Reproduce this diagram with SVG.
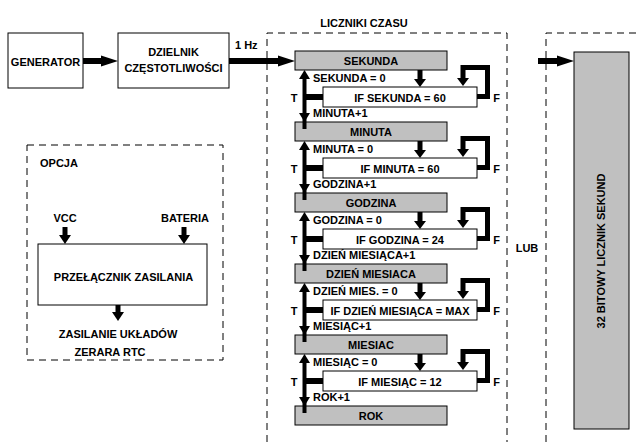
<svg xmlns="http://www.w3.org/2000/svg" width="641" height="442" viewBox="0 0 641 442">
<style>
text{font-family:"Liberation Sans",Arial,sans-serif;font-weight:bold;font-size:11px;fill:#000}
.c{text-anchor:middle}
.box{fill:#fff;stroke:#000;stroke-width:1}
.gray{fill:#c0c0c0;stroke:#000;stroke-width:1}
.dash{fill:none;stroke:#000;stroke-width:1;stroke-dasharray:7 5}
.th{fill:none;stroke:#000;stroke-width:6}
.md{fill:none;stroke:#000;stroke-width:5}
.sh{fill:none;stroke:#000;stroke-width:4}
.hd{fill:#000}
</style>
<rect width="641" height="442" fill="#fff"/>

<!-- dashed containers -->
<g id="liczniki">
<path class="dash" d="M267,442 V33 H507 V442"/>
<text class="c" x="364" y="27">LICZNIKI CZASU</text>
</g>
<g id="lub-region">
<path class="dash" d="M546,442 V33 H641"/>
<text class="c" x="527" y="252">LUB</text>
</g>
<g id="opcja">
<rect class="dash" x="27" y="145" width="196" height="215"/>
<text x="40" y="167">OPCJA</text>
<text class="c" x="65" y="222">VCC</text>
<text class="c" x="185" y="222">BATERIA</text>
<text class="c" x="118" y="338">ZASILANIE UKŁADÓW</text>
<text class="c" x="110" y="356">ZERARA RTC</text>
</g>

<g id="generator">
<rect class="box" x="8" y="33" width="75" height="55"/>
<text class="c" x="45.5" y="65.5">GENERATOR</text>
</g>
<g id="dzielnik">
<rect class="box" x="118" y="33" width="111" height="55"/>
<text class="c" x="173.5" y="56">DZIELNIK</text>
<text class="c" x="173.5" y="72">CZĘSTOTLIWOŚCI</text>
</g>
<text x="235" y="49">1 Hz</text>

<g id="przelacznik">
<rect class="box" x="38" y="244" width="169" height="61"/>
<text class="c" x="123.5" y="281">PRZEŁĄCZNIK ZASILANIA</text>
</g>

<g id="licznik32">
<rect class="gray" x="574" y="52" width="55" height="377"/>
<text class="c" transform="translate(605,251) rotate(-90)">32 BITOWY LICZNIK SEKUND</text>
</g>

<!-- counters -->
<g id="sekunda">
<rect class="gray" x="295" y="51" width="152" height="19"/>
<text class="c" x="371" y="65">SEKUNDA</text>
</g>
<g id="if-sekunda">
<rect class="box" x="323" y="87" width="154" height="20"/>
<text class="c" x="400" y="101.5">IF SEKUNDA = 60</text>
</g>
<g id="minuta">
<rect class="gray" x="295" y="122" width="152" height="19"/>
<text class="c" x="371" y="136">MINUTA</text>
</g>
<g id="if-minuta">
<rect class="box" x="323" y="158" width="154" height="20"/>
<text class="c" x="400" y="172.5">IF MINUTA = 60</text>
</g>
<g id="godzina">
<rect class="gray" x="295" y="193" width="152" height="19"/>
<text class="c" x="371" y="207">GODZINA</text>
</g>
<g id="if-godzina">
<rect class="box" x="323" y="229" width="154" height="20"/>
<text class="c" x="400" y="243.5">IF GODZINA = 24</text>
</g>
<g id="dzien">
<rect class="gray" x="295" y="264" width="152" height="19"/>
<text class="c" x="371" y="278">DZIEŃ MIESIACA</text>
</g>
<g id="if-dzien">
<rect class="box" x="323" y="300" width="154" height="20"/>
<text class="c" x="400" y="314.5">IF DZIEŃ MIESIĄCA = MAX</text>
</g>
<g id="miesiac">
<rect class="gray" x="295" y="335" width="152" height="19"/>
<text class="c" x="371" y="349">MIESIAC</text>
</g>
<g id="if-miesiac">
<rect class="box" x="323" y="371" width="154" height="20"/>
<text class="c" x="400" y="385.5">IF MIESIĄC = 12</text>
</g>
<g id="rok">
<rect class="gray" x="295" y="406" width="152" height="19"/>
<text class="c" x="371" y="420">ROK</text>
</g>

<!-- labels -->
<g id="labels">
<text x="313" y="82">SEKUNDA = 0</text>
<text x="313" y="117">MINUTA+1</text>
<text x="313" y="153">MINUTA = 0</text>
<text x="313" y="188">GODZINA+1</text>
<text x="313" y="224">GODZINA = 0</text>
<text x="313" y="259">DZIEŃ MIESIĄCA+1</text>
<text x="313" y="295">DZIEŃ MIES. = 0</text>
<text x="313" y="330">MIESIĄC+1</text>
<text x="313" y="366">MIESIĄC = 0</text>
<text x="313" y="401">ROK+1</text>
<text class="c" x="294" y="101.5">T</text><text class="c" x="496.5" y="101.5">F</text>
<text class="c" x="294" y="172.5">T</text><text class="c" x="496.5" y="172.5">F</text>
<text class="c" x="294" y="243.5">T</text><text class="c" x="496.5" y="243.5">F</text>
<text class="c" x="294" y="314.5">T</text><text class="c" x="496.5" y="314.5">F</text>
<text class="c" x="294" y="385.5">T</text><text class="c" x="496.5" y="385.5">F</text>
</g>

<defs>
<g id="row">
<!-- down arrow -->
<path class="md" d="M420,19 V29"/>
<polygon class="hd" points="414,28 426,28 420,36"/>
<!-- loop -->
<path class="md" d="M477,45.5 H487.5 V16.5 H463 V28"/>
<polygon class="hd" points="457,27 469,27 463,35"/>
<!-- T double arrow -->
<path class="sh" d="M304.5,78 V63"/>
<path class="sh" d="M304.5,27 V63"/>
<polygon class="hd" points="299,28 310,28 304.5,19"/>
<polygon class="hd" points="299,62 310,62 304.5,71"/>
<path class="th" d="M304.5,46 H323"/>
</g>
</defs>

<g id="connectors">
<path class="th" d="M83,61 H103"/>
<polygon class="hd" points="101,55.5 118,61 101,66.5"/>
<path class="th" d="M229,61 H280"/>
<polygon class="hd" points="278,55.5 295,61 278,66.5"/>
<path class="th" d="M538,61 H559"/>
<polygon class="hd" points="557,55.5 574,61 557,66.5"/>
<use href="#row" y="51"/>
<use href="#row" y="122"/>
<use href="#row" y="193"/>
<use href="#row" y="264"/>
<use href="#row" y="335"/>
<path class="md" d="M65,227 V236"/>
<polygon class="hd" points="59,235 71,235 65,244"/>
<path class="md" d="M184,227 V236"/>
<polygon class="hd" points="178,235 190,235 184,244"/>
<path class="md" d="M118,305 V313"/>
<polygon class="hd" points="112,312 124,312 118,321"/>
</g>
</svg>
